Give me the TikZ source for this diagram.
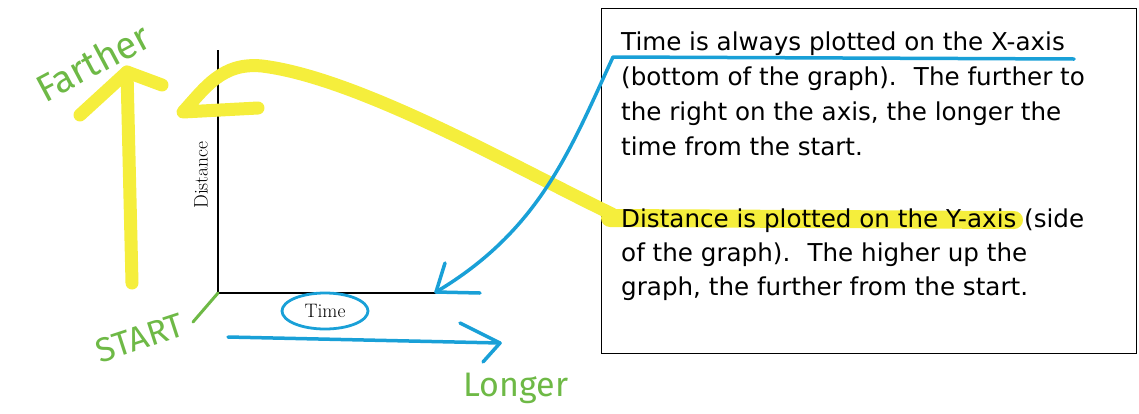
\documentclass[tikz,border=0pt]{standalone}
\usepackage{fontspec}
\usepackage{xcolor}
\usetikzlibrary{arrows.meta,calc}
\newfontfamily\notefont{DejaVu Sans}
\newfontfamily\handfont{Fira Sans}
\definecolor{penblue}{RGB}{25,160,215}
\definecolor{penyellow}{RGB}{245,238,60}
\definecolor{pengreen}{RGB}{110,185,70}
\newcommand{\gap}{\hspace{0.7em}}
\tikzset{
  notetext/.style={anchor=base west,inner sep=0pt,font=\notefont\fontsize{24.6}{28}\selectfont},
  handtext/.style={text=pengreen,inner sep=0pt,font=\handfont\fontsize{34}{34}\selectfont},
  axislabel/.style={inner sep=0pt,font=\fontsize{19.5}{19.5}\selectfont},
  marker/.style={penyellow,line width=13pt,line cap=round,line join=round},
  bluepen/.style={penblue,line width=3.5pt,line cap=round,line join=round},
}

\begin{document}
\begin{tikzpicture}[x=1pt,y=-1pt]
  \useasboundingbox (0,0) rectangle (1139,413);

  % Notizkasten rechts
  \node[draw,line width=1.2pt,minimum width=535pt,minimum height=345pt,anchor=north west,inner sep=0pt] (note) at (601,8) {};
  \draw[penyellow,line width=18pt,line cap=round] (610,218) -- (1014,220);
  \node[notetext] (l1) at (621,50) {Time is always plotted on the X-axis};
  \node[notetext] (l2) at (621,85) {(bottom of the graph).\gap The further to};
  \node[notetext] (l3) at (621,120) {the right on the axis, the longer the};
  \node[notetext] (l4) at (621,155) {time from the start.};
  \node[notetext] (l5) at (621,227) {Distance is plotted on the Y-axis (side};
  \node[notetext] (l6) at (621,261) {of the graph).\gap The higher up the};
  \node[notetext] (l7) at (621,295) {graph, the further from the start.};

  % Achsen
  \coordinate (origin) at (218,293);
  \coordinate (ytop) at (218,50);
  \coordinate (xend) at (440,293);
  \draw[line width=1.3pt] (ytop) -- (origin) -- (xend);
  \node[axislabel,rotate=90] (dist) at (201,175) {Distance};
  \node[axislabel] (time) at (325,311) {Time};
  \draw[penblue,line width=2.8pt] (time) ellipse (43pt and 18pt);

  % gelbe Markierungen
  \coordinate (ybot) at (132,283);
  \coordinate (ytip) at (127,72);
  \draw[marker] (ybot) -- (ytip);
  \draw[marker] (80,115) -- (ytip) -- (162,85);
  \coordinate (dmark) at (612,214);
  \coordinate (dtip) at (183,112);
  \draw[marker] (dmark) .. controls (520,170) and (360,78) .. (262,66)
    .. controls (222,62) and (205,88) .. (dtip) -- (258,108);

  % blaue Markierungen
  \coordinate (tmark) at (613,57);
  \coordinate (xtip) at (436,292);
  \draw[bluepen] (1074,59) -- (tmark) .. controls (570,150) and (540,230) .. (xtip);
  \draw[bluepen] (445,263) -- (xtip) -- (480,293);
  \coordinate (tstart) at (228,337);
  \coordinate (ttip) at (500,343);
  \draw[bluepen] (tstart) -- (ttip);
  \draw[bluepen] (460,323) -- (ttip) -- (483,362);

  % gruene Beschriftung
  \node[handtext,font=\handfont\fontsize{38}{38}\selectfont,rotate=28] (farther) at (93,62) {Farther};
  \node[handtext,rotate=18] (start) at (140,338) {START};
  \draw[pengreen,line width=3pt,line cap=round] (193,322) -- (origin);
  \node[handtext] (longer) at (516,388) {Longer};
\end{tikzpicture}
\end{document}
